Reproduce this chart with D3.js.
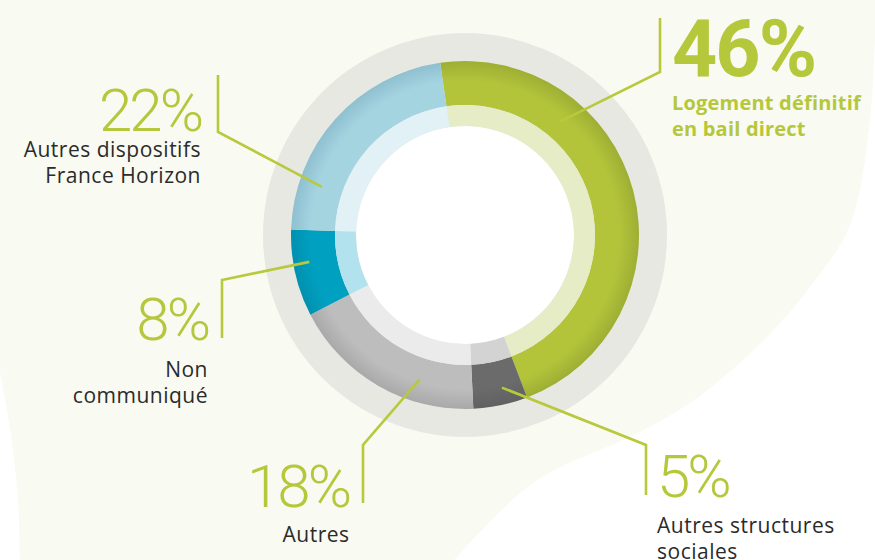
<!DOCTYPE html>
<html>
<head>
<meta charset="utf-8">
<script src="https://cdn.jsdelivr.net/npm/d3@7"></script>
<style>
  html, body { margin: 0; padding: 0; background: #ffffff; }
  svg { display: block; }
</style>
</head>
<body>
<div id="chart"></div>
<script>
// data
const categories = ["Logement définitif en bail direct", "Autres structures sociales", "Autres", "Non communiqué", "Autres dispositifs France Horizon"];
const values = [46, 5, 18, 8, 22];
const nameLines = [["Logement définitif", "en bail direct"], ["Autres structures", "sociales"], ["Autres"], ["Non", "communiqué"], ["Autres dispositifs", "France Horizon"]];

// colours per slice
const mainColors  = ["#b3c43b", "#6b6b6b", "#bdbdbd", "#00a0c1", "#a5d4e1"];
const shadeColors = ["#9dad33", "#606060", "#a8a8a8", "#0090ae", "#8ebfcf"];
const innerColors = ["#e6ecc6", "#d3d3d3", "#ebebeb", "#b2e2ee", "#e1f1f6"];

const width = 875, height = 560;
const cx = 465, cy = 235;
const green = "#b5c73a";

const svg = d3.select("#chart").append("svg")
    .attr("width", width)
    .attr("height", height);

// background: cream shape with white edges
const bgLine = d3.line().curve(d3.curveCatmullRom.alpha(0.5));
const rightEdge = [[876, -5], [870, 120], [850, 225], [813, 283], [767, 337], [700, 396], [640, 432], [533, 483], [450, 565]];
const leftEdge = [[20, 565], [18, 500], [11, 435], [0, 372]];
svg.append("path")
    .attr("d", "M0,-5 L" + bgLine(rightEdge).slice(1) + " L" + bgLine(leftEdge).slice(1) + " Z")
    .attr("fill", "#f9faf2");

const defs = svg.append("defs");
mainColors.forEach((c, i) => {
  const g = defs.append("radialGradient")
      .attr("id", "grad" + i)
      .attr("gradientUnits", "userSpaceOnUse")
      .attr("cx", 0).attr("cy", 0).attr("r", 175);
  g.append("stop").attr("offset", "74%").attr("stop-color", c);
  g.append("stop").attr("offset", "88%").attr("stop-color", c);
  g.append("stop").attr("offset", "100%").attr("stop-color", shadeColors[i]);
});

const chart = svg.append("g").attr("transform", `translate(${cx},${cy})`);

// outer grey ring
chart.append("circle").attr("r", 202).attr("fill", "#e8e8e3");
chart.append("circle").attr("r", 109).attr("fill", "#ffffff");

const start = -8.2 * Math.PI / 180;
const pie = d3.pie().sort(null).value(d => d)
    .startAngle(start).endAngle(start + 2 * Math.PI);
const arcs = pie(values);

const outerArc = d3.arc().innerRadius(130).outerRadius(174);
const innerArc = d3.arc().innerRadius(109).outerRadius(130);

chart.selectAll("path.outer")
  .data(arcs)
  .join("path")
    .attr("class", "outer")
    .attr("d", outerArc)
    .attr("fill", (d, i) => `url(#grad${i})`);

chart.selectAll("path.inner")
  .data(arcs)
  .join("path")
    .attr("class", "inner")
    .attr("d", innerArc)
    .attr("fill", (d, i) => innerColors[i]);

// callouts: angle on ring (deg), elbow and end points, text anchor position
const callouts = [
  { angle: 40, r: 148, elbow: [660, 72], end: [660, 18], tx: 672, ty: 76, gap: 34, anchor: "start", big: true },
  { angle: 166.4, r: 157, elbow: [646, 445], end: [646, 495], tx: 657, ty: 497, gap: 36, anchor: "start" },
  { angle: 197.4, r: 151, elbow: [363, 445], end: [363, 503], tx: 349, ty: 507, gap: 35, anchor: "end", center: 316 },
  { angle: 260.2, r: 158, elbow: [222, 280], end: [222, 338], tx: 208, ty: 340, gap: 37, anchor: "end" },
  { angle: 288.6, r: 151, elbow: [218, 132], end: [218, 75], tx: 201, ty: 131, gap: 26, anchor: "end" }
];

const polar = (a, r) => [cx + r * Math.sin(a * Math.PI / 180), cy - r * Math.cos(a * Math.PI / 180)];

svg.selectAll("path.leader")
  .data(callouts)
  .join("path")
    .attr("class", "leader")
    .attr("d", d => d3.line()([polar(d.angle, d.r), d.elbow, d.end]))
    .attr("fill", "none")
    .attr("stroke", "#b8c93c")
    .attr("stroke-width", 2.6);

const labels = svg.selectAll("g.label")
  .data(callouts)
  .join("g")
    .attr("class", "label");

labels.append("text")
    .attr("x", d => d.tx)
    .attr("y", d => d.ty)
    .attr("text-anchor", d => d.anchor)
    .attr("fill", green)
    .style("font-family", "Roboto, 'DejaVu Sans', sans-serif")
    .style("font-size", d => d.big ? "79px" : "60px")
    .style("font-weight", d => d.big ? 700 : 300)
    .style("letter-spacing", d => d.big ? "-2px" : "-3px")
    .text((d, i) => values[i] + "%");

labels.append("text")
    .attr("x", d => d.center || d.tx)
    .attr("y", d => d.ty + d.gap)
    .attr("text-anchor", d => d.center ? "middle" : d.anchor)
    .attr("fill", d => d.big ? green : "#2b2b2b")
    .style("font-family", "'Open Sans', Roboto, sans-serif")
    .style("font-size", d => d.big ? "20px" : "21px")
    .style("font-weight", d => d.big ? 700 : 400)
    .style("letter-spacing", d => d.big ? "0.2px" : "0.5px")
    .selectAll("tspan")
    .data((d, i) => nameLines[i].map(t => ({ t, d })))
    .join("tspan")
      .attr("x", o => o.d.center || o.d.tx)
      .attr("dy", (o, j) => j ? 26 : 0)
      .text(o => o.t);
</script>
</body>
</html>
